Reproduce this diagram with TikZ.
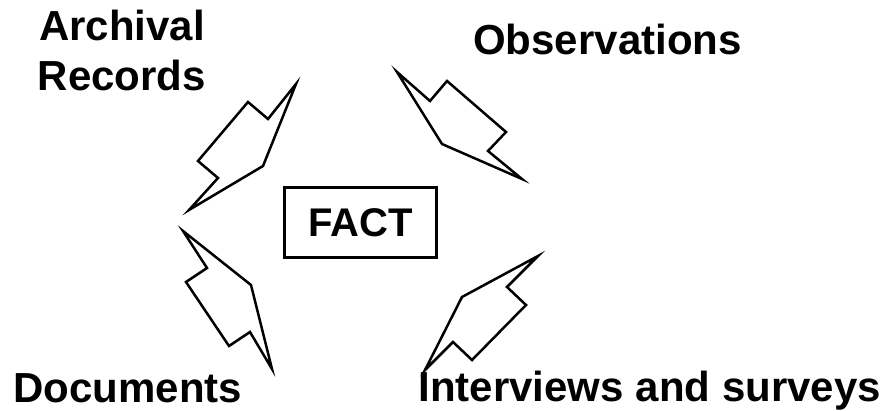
\documentclass[tikz,border=0pt]{standalone}
\usepackage{fontspec}
\setmainfont{Liberation Sans}

\begin{document}
\begin{tikzpicture}[
    x=1pt, y=-1pt,
    % Node styles
    source/.style={font=\fontsize{42}{49.6}\selectfont\bfseries, inner sep=0pt, align=center},
    factbox/.style={rectangle, draw, line width=3pt, minimum width=152pt, minimum height=70pt, font=\fontsize{40}{46}\selectfont\bfseries},
    % Arrow shapes
    bolt/.style={draw, line width=2.5pt, line join=miter},
]

% Fixed frame
\useasboundingbox (0,0) rectangle (886,411);

% Central box
\node[factbox] (fact) at (360.5, 222.5) {FACT};

% Sources of evidence
\node[source, anchor=base] (archival) at (122, 90.3) {Archival\\Records};
\node[source, anchor=base] (observ) at (607.5, 54.3) {Observations};
\node[source, anchor=base] (docs) at (127.7, 402.7) {Documents};
\node[source, anchor=base] (interv) at (649.7, 401.7) {Interviews and surveys};

% Broken arrows (drawn as outlines)
\draw[bolt] (296,84) -- (268,119) -- (248,102) -- (198,161) -- (218,178) -- (189,210) -- (263,166) -- cycle;
\draw[bolt] (397,72) -- (430,101) -- (447,81) -- (506,132) -- (488,151) -- (522,179) -- (442,144) -- cycle;
\draw[bolt] (183,231) -- (207,268) -- (186,282) -- (229,346) -- (250,332) -- (272,369) -- (251,285) -- cycle;
\draw[bolt] (538,256) -- (507,287) -- (526,305) -- (472,360) -- (453,342) -- (425,370) -- (462,297) -- cycle;

\end{tikzpicture}
\end{document}
